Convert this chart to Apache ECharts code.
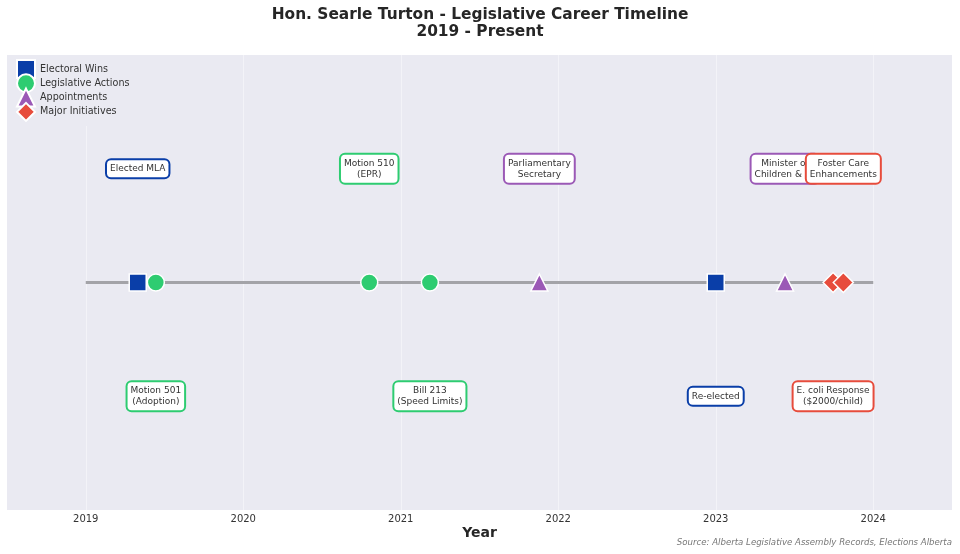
<!DOCTYPE html>
<html>
<head>
<meta charset="utf-8">
<script src="https://cdn.jsdelivr.net/npm/echarts@6/dist/echarts.min.js"></script>
<style>html,body{margin:0;padding:0;background:#fff}#c{width:960px;height:554px}</style>
</head>
<body>
<div id="c"></div>
<script>
const yearTicks = [2019, 2020, 2021, 2022, 2023, 2024];
const categories = ['Electoral Wins', 'Legislative Actions', 'Appointments', 'Major Initiatives'];
const catColors = ['#0a3ea8', '#2ecc71', '#9b59b6', '#e74c3c'];
const catSymbols = ['rect', 'circle', 'triangle', 'diamond'];
const catSizes = [17, 17, 17, 20];
// events: [date, label, side (1 = above, -1 = below)]
const electoralEvents = [[2019.33, 'Elected MLA', 1], [2023.0, 'Re-elected', -1]];
const legislativeEvents = [[2019.445, 'Motion 501\n(Adoption)', -1], [2020.80, 'Motion 510\n(EPR)', 1], [2021.185, 'Bill 213\n(Speed Limits)', -1]];
const appointmentEvents = [[2021.88, 'Parliamentary\nSecretary', 1], [2023.44, 'Minister of\nChildren & FS', 1]];
const initiativeEvents = [[2023.745, 'E. coli Response\n($2000/child)', -1], [2023.81, 'Foster Care\nEnhancements', 1]];
const eventGroups = [electoralEvents, legislativeEvents, appointmentEvents, initiativeEvents];
const timelineSpan = [2019, 2024];

const chart = echarts.init(document.getElementById('c'));
const font = 'DejaVu Sans';
const series = [];
series.push({
  type: 'line', name: 'timeline', silent: true, symbol: 'none', z: 1,
  data: timelineSpan.map(v => [v, 0]),
  lineStyle: { color: '#a3a3a8', width: 3 },
  markLine: {
    silent: true, symbol: 'none', label: { show: false }, z: 0,
    lineStyle: { color: 'rgba(255,255,255,0.45)', width: 1, type: 'solid' },
    data: yearTicks.map(y => ({ xAxis: y }))
  }
});
eventGroups.forEach((evs, i) => {
  series.push({
    type: 'scatter', name: categories[i], z: 3,
    symbol: catSymbols[i], symbolSize: catSizes[i],
    itemStyle: { color: catColors[i], borderColor: '#fff', borderWidth: 1.5, opacity: 1 },
    data: evs.map(e => [e[0], 0])
  });
});
eventGroups.forEach((evs, i) => {
  series.push({
    type: 'scatter', name: 'lbl' + i, z: 4 + i, symbol: 'circle', symbolSize: 1, silent: true,
    itemStyle: { color: 'rgba(0,0,0,0)', opacity: 1 },
    data: evs.map(e => [e[0], e[2] * 0.5, e[1]]),
    label: {
      show: true, position: 'inside',
      formatter: p => p.data[2],
      fontFamily: font, fontSize: 9, lineHeight: 11, color: '#333',
      backgroundColor: '#fff', borderColor: catColors[i], borderWidth: 2,
      borderRadius: 4, padding: [3, 3, 3, 3], align: 'center'
    }
  });
});

chart.setOption({
  backgroundColor: '#fff',
  animation: false,
  title: {
    text: 'Hon. Searle Turton - Legislative Career Timeline\n2019 - Present',
    left: 'center', top: 1,
    textStyle: { fontFamily: font, fontSize: 15.4, fontWeight: 'bold', color: '#262626', lineHeight: 17 }
  },
  legend: {
    data: categories, orient: 'vertical', left: 11, top: 55, padding: [4, 5, 4, 5],
    itemWidth: 18, itemHeight: 18, itemGap: -5.7, itemTextGap: 12,
    backgroundColor: '#eaeaf2',
    textStyle: { fontFamily: font, fontSize: 9.6, color: '#333' }
  },
  grid: { left: 7, right: 8, top: 55, bottom: 44, backgroundColor: '#eaeaf2', show: true, borderWidth: 0 },
  xAxis: {
    type: 'value', min: 2018.5, max: 2024.5,
    name: 'Year', nameLocation: 'middle', nameGap: 16, nameMoveOverlap: false,
    nameTextStyle: { fontFamily: font, fontSize: 14, fontWeight: 'bold', color: '#262626' },
    axisLine: { show: false }, axisTick: { show: false },
    splitLine: { show: false },
    axisLabel: { customValues: yearTicks, formatter: v => String(v), fontFamily: font, fontSize: 10, color: '#333', margin: 4 }
  },
  yAxis: { type: 'value', min: -1, max: 1, show: false, splitLine: { show: false } },
  graphic: [{
    type: 'text', right: 8, bottom: 7,
    style: { text: 'Source: Alberta Legislative Assembly Records, Elections Alberta', fontFamily: font, fontSize: 8.6, fontStyle: 'italic', fill: '#777' }
  }],
  series: series
});
</script>
</body>
</html>
